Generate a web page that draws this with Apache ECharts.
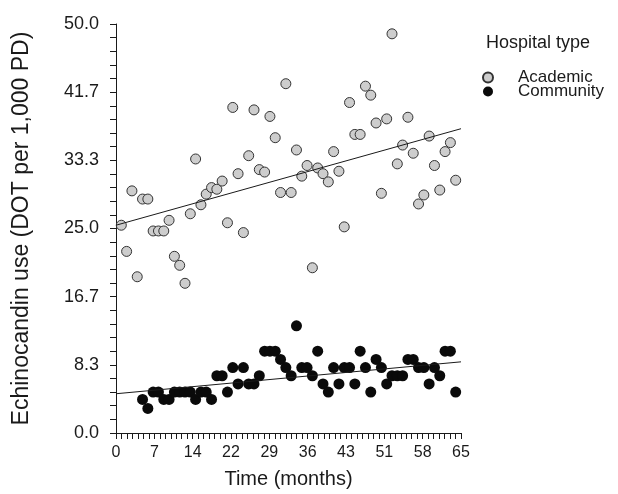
<!DOCTYPE html>
<html>
<head>
<meta charset="utf-8">
<script src="https://cdn.jsdelivr.net/npm/echarts@6/dist/echarts.min.js"></script>
<style>
  html, body { margin: 0; padding: 0; background: #fff; }
  #main { width: 618px; height: 494px; }
</style>
</head>
<body>
<div id="main"></div>
<script>
// months and monthly DOT per 1,000 patient-days
const academicMonths = [1, 2, 3, 4, 5, 6, 7, 8, 9, 10, 11, 12, 13, 14, 15, 16,
  17, 18, 19, 20, 21, 22, 23, 24, 25, 26, 27, 28, 29, 30, 31, 32,
  33, 34, 35, 36, 37, 38, 39, 40, 41, 42, 43, 44, 45, 46, 47, 48,
  49, 50, 51, 52, 53, 54, 55, 56, 57, 58, 59, 60, 61, 62, 63, 64]
const academicUse = [25.4, 22.2, 29.6, 19.1, 28.6, 28.6, 24.7, 24.7, 24.7, 26.0, 21.6, 20.5, 18.3, 26.8, 33.5, 27.9,
  29.2, 30.0, 29.8, 30.8, 25.7, 39.8, 31.7, 24.5, 33.9, 39.5, 32.2, 31.9, 38.7, 36.1, 29.4, 42.7,
  29.4, 34.6, 31.4, 32.7, 20.2, 32.4, 31.7, 30.7, 34.4, 32.0, 25.2, 40.4, 36.5, 36.5, 42.4, 41.3,
  37.9, 29.3, 38.4, 48.8, 32.9, 35.2, 38.6, 34.2, 28.0, 29.1, 36.3, 32.7, 29.7, 34.4, 35.5, 30.9]

const communityMonths = [5, 6, 7, 8, 9, 10, 11, 12, 13, 14, 15, 16, 17, 18, 19, 20,
  21, 22, 23, 24, 25, 26, 27, 28, 29, 30, 31, 32, 33, 34, 35, 36,
  37, 38, 39, 40, 41, 42, 43, 44, 45, 46, 47, 48, 49, 50, 51, 52,
  53, 54, 55, 56, 57, 58, 59, 60, 61, 62, 63, 64]
const communityUse = [4.1, 3.0, 5.0, 5.0, 4.1, 4.1, 5.0, 5.0, 5.0, 5.0, 4.1, 5.0, 5.0, 4.1, 7.0, 7.0,
  5.0, 8.0, 6.0, 8.0, 6.0, 6.0, 7.0, 10.0, 10.0, 10.0, 9.0, 8.0, 7.0, 13.1, 8.0, 8.0,
  7.0, 10.0, 6.0, 5.0, 8.0, 6.0, 8.0, 8.0, 6.0, 10.0, 8.0, 5.0, 9.0, 8.0, 6.0, 7.0,
  7.0, 7.0, 9.0, 9.0, 8.0, 8.0, 6.0, 8.0, 7.0, 10.0, 10.0, 5.0]

// fitted trend lines: value at month 0 and month 65
const trendMonths = [0, 65]
const academicTrend = [25.4, 37.2]
const communityTrend = [4.8, 8.7]

const xTickLabels = ['0', '7', '14', '22', '29', '36', '43', '51', '58', '65']
const yTickLabels = ['0.0', '8.3', '16.7', '25.0', '33.3', '41.7', '50.0']

const pairs = (xs, ys) => xs.map((x, i) => [x, ys[i]])

const font = 'Liberation Sans, Arial, Helvetica, sans-serif'
const ink = '#1a1a1a'

const chart = echarts.init(document.getElementById('main'))

const option = {
  animation: false,
  backgroundColor: '#fff',
  textStyle: { fontFamily: font },
  title: {
    text: 'Hospital type',
    left: 481,
    top: 29,
    textStyle: { fontFamily: font, fontSize: 18, fontWeight: 'normal', color: ink }
  },
  legend: {
    orient: 'vertical',
    left: 477,
    top: 64,
    itemWidth: 10,
    itemHeight: 10,
    itemGap: -3,
    data: ['Academic', 'Community'],
    textStyle: { fontFamily: font, fontSize: 17, color: ink, padding: [0, 0, 0, 20] }
  },
  grid: { left: 116, right: 157, top: 24, bottom: 60 },
  xAxis: {
    type: 'value',
    min: 0,
    max: 65,
    interval: 65 / 9,
    name: 'Time (months)',
    nameLocation: 'middle',
    nameGap: 36,
    nameTextStyle: { fontFamily: font, fontSize: 20, color: ink },
    axisLine: { show: true, lineStyle: { color: ink, width: 1 } },
    axisTick: { show: true, length: 6, lineStyle: { color: ink } },
    minorTick: { show: true, splitNumber: 7, length: 6, lineStyle: { color: ink } },
    splitLine: { show: false },
    axisLabel: {
      margin: 12,
      fontSize: 16,
      color: ink,
      fontFamily: font,
      formatter: (v, i) => xTickLabels[i] !== undefined ? xTickLabels[i] : String(Math.round(v))
    }
  },
  yAxis: {
    type: 'value',
    min: 0,
    max: 50,
    interval: 50 / 6,
    name: 'Echinocandin use (DOT per 1,000 PD)',
    nameLocation: 'middle',
    nameRotate: 90,
    nameGap: 83,
    nameTextStyle: { fontFamily: font, fontSize: 23, color: ink },
    axisLine: { show: true, lineStyle: { color: ink, width: 1 } },
    axisTick: { show: true, length: 6, lineStyle: { color: ink } },
    minorTick: { show: true, splitNumber: 5, length: 6, lineStyle: { color: ink } },
    splitLine: { show: false },
    axisLabel: {
      margin: 17,
      fontSize: 18,
      color: ink,
      fontFamily: font,
      formatter: (v, i) => yTickLabels[i] !== undefined ? yTickLabels[i] : v.toFixed(1)
    }
  },
  series: [
    {
      name: 'Academic',
      type: 'scatter',
      symbol: 'circle',
      symbolSize: 10,
      itemStyle: { color: '#cdcdcd', borderColor: '#333', borderWidth: 1, opacity: 1 },
      data: pairs(academicMonths, academicUse),
      z: 2
    },
    {
      name: 'Community',
      type: 'scatter',
      symbol: 'circle',
      symbolSize: 11,
      itemStyle: { color: '#0a0a0a', opacity: 1 },
      data: pairs(communityMonths, communityUse),
      z: 2
    },
    {
      type: 'line',
      data: pairs(trendMonths, academicTrend),
      showSymbol: false,
      symbol: 'none',
      lineStyle: { color: ink, width: 1 },
      silent: true,
      z: 3
    },
    {
      type: 'line',
      data: pairs(trendMonths, communityTrend),
      showSymbol: false,
      symbol: 'none',
      lineStyle: { color: ink, width: 1 },
      silent: true,
      z: 3
    }
  ]
}

chart.setOption(option)
</script>
</body>
</html>
